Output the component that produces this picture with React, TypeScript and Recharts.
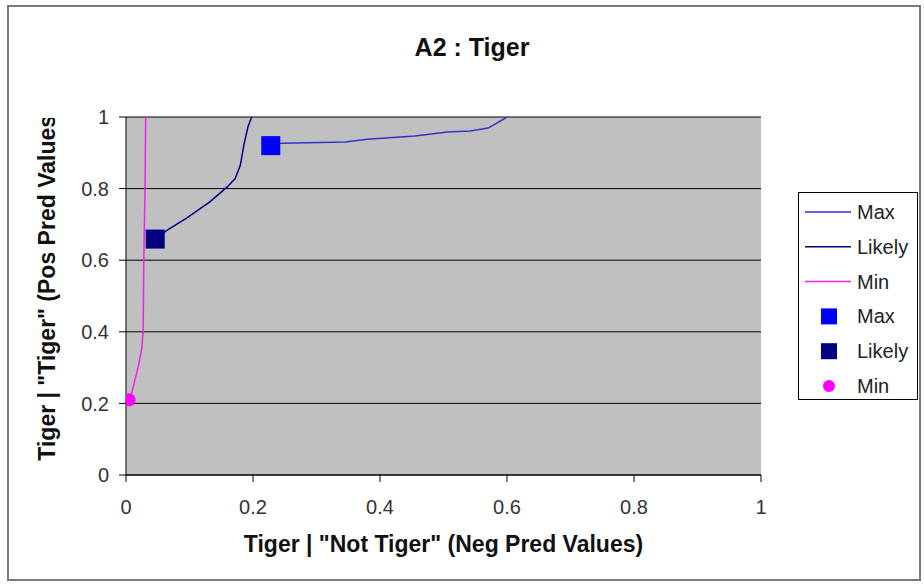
import React from "react";
import {
  ComposedChart,
  Line,
  Scatter,
  XAxis,
  YAxis,
  CartesianGrid,
} from "recharts";

// curves
const maxCurve = [
  { x: 0.228, y: 0.92 },
  { x: 0.246, y: 0.927 },
  { x: 0.345, y: 0.93 },
  { x: 0.38, y: 0.938 },
  { x: 0.455, y: 0.947 },
  { x: 0.506, y: 0.958 },
  { x: 0.542, y: 0.961 },
  { x: 0.57, y: 0.969 },
  { x: 0.584, y: 0.983 },
  { x: 0.6, y: 1.0 },
];

const likelyCurve = [
  { x: 0.046, y: 0.659 },
  { x: 0.065, y: 0.684 },
  { x: 0.096, y: 0.718 },
  { x: 0.132, y: 0.763 },
  { x: 0.159, y: 0.804 },
  { x: 0.172, y: 0.828 },
  { x: 0.18, y: 0.865 },
  { x: 0.186, y: 0.925 },
  { x: 0.192, y: 0.972 },
  { x: 0.198, y: 1.0 },
];

const minCurve = [
  { x: 0.005, y: 0.21 },
  { x: 0.009, y: 0.229 },
  { x: 0.019, y: 0.3 },
  { x: 0.025, y: 0.355 },
  { x: 0.027, y: 0.4 },
  { x: 0.028, y: 0.6 },
  { x: 0.03, y: 0.8 },
  { x: 0.031, y: 1.0 },
];

const maxPoint = [{ x: 0.228, y: 0.92 }];
const likelyPoint = [{ x: 0.046, y: 0.659 }];
const minPoint = [{ x: 0.005, y: 0.21 }];

const xTicks = [0, 0.2, 0.4, 0.6, 0.8, 1];
const yTicks = [0, 0.2, 0.4, 0.6, 0.8, 1];

const TITLE = "A2 : Tiger";
const X_LABEL = 'Tiger | "Not Tiger" (Neg Pred Values)';
const Y_LABEL = 'Tiger | "Tiger" (Pos Pred Values)';

const FONT = "'Liberation Sans', Arial, sans-serif";

const COLORS = {
  maxLine: "#3333cc",
  likelyLine: "#000080",
  minLine: "#ee22ee",
  maxMark: "#0000ff",
  likelyMark: "#000080",
  minMark: "#ff00ff",
};

const legendItems = [
  { label: "Max", kind: "line", color: COLORS.maxLine },
  { label: "Likely", kind: "line", color: COLORS.likelyLine },
  { label: "Min", kind: "line", color: COLORS.minLine },
  { label: "Max", kind: "square", color: COLORS.maxMark },
  { label: "Likely", kind: "square", color: COLORS.likelyMark },
  { label: "Min", kind: "circle", color: COLORS.minMark },
];

const squareShape = (size: number, color: string) => (props: any) => {
  const { cx, cy } = props;
  return (
    <rect x={cx - size / 2} y={cy - size / 2} width={size} height={size} fill={color} />
  );
};

const circleShape = (r: number, color: string) => (props: any) => {
  const { cx, cy } = props;
  return <circle cx={cx} cy={cy} r={r} fill={color} />;
};

const XLabel = (props: any) => {
  const { x, y, width } = props.viewBox;
  return (
    <text
      x={x + width / 2}
      y={y + 77}
      textAnchor="middle"
      fontFamily={FONT}
      fontWeight="bold"
      fontSize={23}
      fill="#111"
    >
      {X_LABEL}
    </text>
  );
};

// the reference cuts the y label off at the top of the plot
const YLabel = (props: any) => {
  const { y, height } = props.viewBox;
  const cy = y + height / 2 - 12;
  return (
    <g>
      <defs>
        <clipPath id="ylabel-clip" clipPathUnits="userSpaceOnUse">
          <rect x={0} y={118} width={100} height={400} />
        </clipPath>
      </defs>
      <g clipPath="url(#ylabel-clip)">
        <text
          x={47}
          y={cy}
          transform={`rotate(-90 47 ${cy})`}
          textAnchor="middle"
          dominantBaseline="central"
          fontFamily={FONT}
          fontWeight="bold"
          fontSize={23}
          fill="#111"
        >
          {Y_LABEL}
        </text>
      </g>
    </g>
  );
};

function LegendBox() {
  return (
    <div
      style={{
        position: "absolute",
        left: 798,
        top: 192,
        width: 120,
        height: 208,
        boxSizing: "border-box",
        border: "1px solid #000",
        background: "#fff",
      }}
    >
      <svg width={118} height={206}>
        {legendItems.map((item, i) => {
          const cy = 19 + i * 34.8;
          return (
            <g key={i}>
              {item.kind === "line" && (
                <line x1={6} x2={52} y1={cy} y2={cy} stroke={item.color} strokeWidth={1.5} />
              )}
              {item.kind === "square" && (
                <rect x={22} y={cy - 8} width={16} height={16} fill={item.color} />
              )}
              {item.kind === "circle" && <circle cx={30} cy={cy} r={6} fill={item.color} />}
              <text
                x={58}
                y={cy}
                dominantBaseline="central"
                fontFamily={FONT}
                fontSize={20}
                fill="#222"
              >
                {item.label}
              </text>
            </g>
          );
        })}
      </svg>
    </div>
  );
}

export default function App() {
  return (
    <div style={{ position: "absolute", left: 0, top: 0, width: 924, height: 586, background: "#fff" }}>
      <div
        style={{
          position: "absolute",
          left: 7,
          top: 5,
          width: 914,
          height: 576,
          boxSizing: "border-box",
          border: "2px solid #7a7a7a",
        }}
      />
      <div
        style={{
          position: "absolute",
          left: 0,
          top: 33,
          width: 944,
          textAlign: "center",
          fontFamily: FONT,
          fontWeight: "bold",
          fontSize: 25,
          color: "#111",
        }}
      >
        {TITLE}
      </div>
      <div style={{ position: "absolute", left: 0, top: 0 }}>
        <ComposedChart
          width={924}
          height={586}
          margin={{ top: 117, right: 163, bottom: 51, left: 0 }}
        >
          <CartesianGrid vertical={false} stroke="#000" fill="#c0c0c0" strokeOpacity={1} />
          <XAxis
            type="number"
            dataKey="x"
            domain={[0, 1]}
            ticks={xTicks}
            tickFormatter={(v) => String(v)}
            height={60}
            stroke="#000"
            tickSize={7}
            tickMargin={18}
            tick={{ fill: "#333", fontSize: 20, fontFamily: FONT }}
            label={<XLabel />}
            allowDataOverflow
          />
          <YAxis
            type="number"
            dataKey="y"
            domain={[0, 1]}
            ticks={yTicks}
            tickFormatter={(v) => String(v)}
            width={126}
            stroke="#000"
            tickSize={7}
            tickMargin={10}
            tick={{ fill: "#333", fontSize: 20, fontFamily: FONT }}
            label={<YLabel />}
            allowDataOverflow
          />
          <Line
            data={maxCurve}
            dataKey="y"
            type="linear"
            stroke={COLORS.maxLine}
            strokeWidth={1.5}
            dot={false}
            isAnimationActive={false}
          />
          <Line
            data={likelyCurve}
            dataKey="y"
            type="linear"
            stroke={COLORS.likelyLine}
            strokeWidth={1.5}
            dot={false}
            isAnimationActive={false}
          />
          <Line
            data={minCurve}
            dataKey="y"
            type="linear"
            stroke={COLORS.minLine}
            strokeWidth={1.5}
            dot={false}
            isAnimationActive={false}
          />
          <Scatter
            data={maxPoint}
            dataKey="y"
            shape={squareShape(19, COLORS.maxMark)}
            isAnimationActive={false}
          />
          <Scatter
            data={likelyPoint}
            dataKey="y"
            shape={squareShape(19, COLORS.likelyMark)}
            isAnimationActive={false}
          />
          <Scatter
            data={minPoint}
            dataKey="y"
            shape={circleShape(6.5, COLORS.minMark)}
            isAnimationActive={false}
          />
        </ComposedChart>
      </div>
      <LegendBox />
    </div>
  );
}
